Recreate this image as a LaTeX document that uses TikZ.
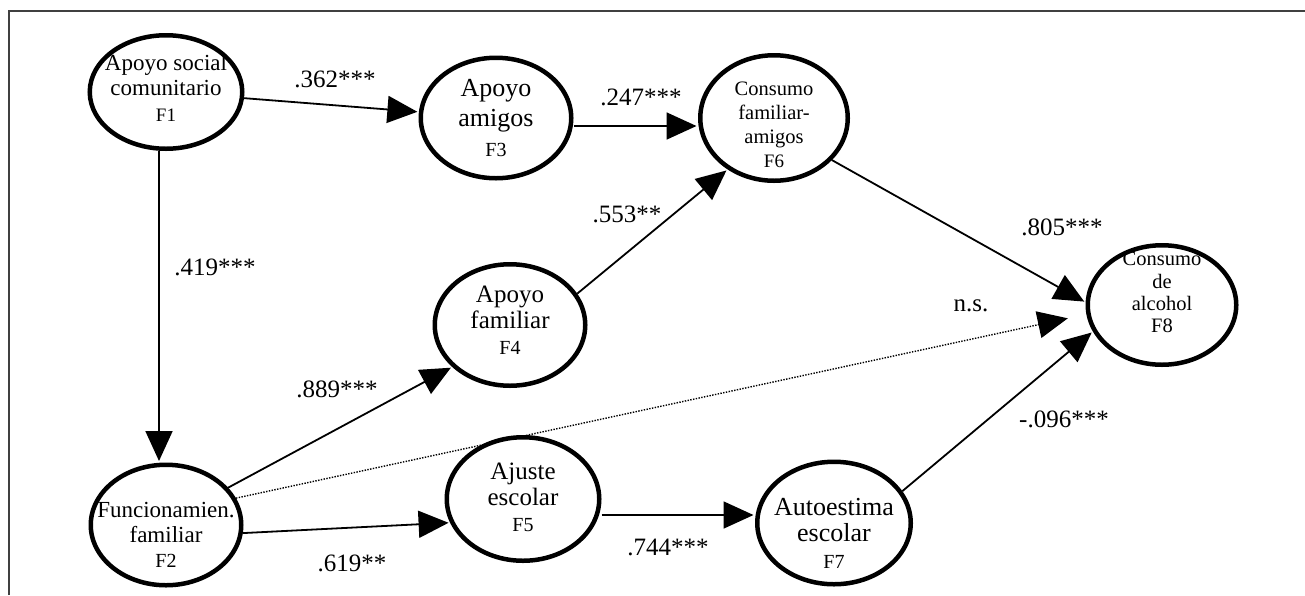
\documentclass[tikz,border=0pt]{standalone}
\usepackage{fontspec}
\setmainfont{Liberation Serif}
\usetikzlibrary{arrows.meta,shapes.geometric}
\begin{document}
\begin{tikzpicture}[x=1pt,y=-1pt,
  lv/.style={draw=black, line width=4.5pt, ellipse, inner sep=0pt, fill=white},
  nm/.style={align=center, inner sep=0pt},
  conn/.style={line width=1.8pt, -{Triangle[length=30pt,width=27pt]}, shorten >=1.5pt},
  dotline/.style={line width=1.4pt, dash pattern=on 1.4pt off 1.4pt, -{Triangle[length=30pt,width=27pt]}},
  coef/.style={font=\fontsize{25}{28}\selectfont, inner sep=0pt}]
\useasboundingbox (0,0) rectangle (1305,595);
\draw[line width=1.5pt, black!75] (9,595) -- (9,11) -- (1305,11);

% latent variables
\node[lv, minimum width=152.5pt, minimum height=113.5pt] (F1) at (166,92) {};
\node[lv, minimum width=150.5pt, minimum height=120.5pt] (F3) at (496,118) {};
\node[lv, minimum width=147.5pt, minimum height=125.5pt] (F6) at (774,118) {};
\node[lv, minimum width=150.5pt, minimum height=121.5pt] (F4) at (510,325) {};
\node[lv, minimum width=150.5pt, minimum height=120.5pt] (F2) at (166,525) {};
\node[lv, minimum width=152.5pt, minimum height=123.5pt] (F5) at (523,499) {};
\node[lv, minimum width=153.5pt, minimum height=122.5pt] (F7) at (834,523) {};
\node[lv, minimum width=148.5pt, minimum height=119.5pt] (F8) at (1162,305) {};

% texts
\node[nm, font=\fontsize{23}{25.5}\selectfont] (T1) at (166,88) {Apoyo social\\comunitario\\{\fontsize{19}{22}\selectfont F1}};
\node[nm, font=\fontsize{26}{30}\selectfont] (T3) at (496,118) {Apoyo\\amigos\\{\fontsize{20}{22}\selectfont F3}};
\node[nm, font=\fontsize{20.5}{24}\selectfont] (T6) at (774,125) {Consumo\\familiar-\\amigos\\{\fontsize{19}{22}\selectfont F6}};
\node[nm, font=\fontsize{25}{26}\selectfont] (T4) at (510,320) {Apoyo\\familiar\\{\fontsize{20}{22}\selectfont F4}};
\node[nm, font=\fontsize{23}{25}\selectfont] (T2) at (166,535) {Funcionamien.\\familiar\\{\fontsize{20}{22}\selectfont F2}};
\node[nm, font=\fontsize{25}{26}\selectfont] (T5) at (523,497.5) {Ajuste\\escolar\\{\fontsize{20}{22}\selectfont F5}};
\node[nm, font=\fontsize{26}{26.5}\selectfont] (T7) at (834,533) {Autoestima\\escolar\\{\fontsize{20}{22}\selectfont F7}};
\node[nm, font=\fontsize{20.5}{22.3}\selectfont] (T8) at (1162,292.5) {Consumo\\de\\alcohol\\{\fontsize{20.5}{22}\selectfont F8}};

% paths
\draw[conn] (F1) -- (F3);
\draw[conn] ([xshift=-7pt]F1.south) -- ([xshift=-7pt]F2.north);
\draw[conn] ([yshift=-8pt]F3.east) -- ([yshift=-8pt]F6.west);
\draw[conn] (F4.25) -- (F6.228);
\draw[conn] (F6.-36) -- (F8.178);
\draw[conn] (F2.31) -- (F4.216);
\draw[dotline, shorten >=19pt] (F2.21) -- (F8.187);
\draw[conn] (F2.-6) -- (F5.198);
\draw[conn] ([yshift=-16pt]F5.east) -- ([yshift=8pt]F7.west);
\draw[conn] (F7.25) -- (F8.201);

% coefficients
\node[coef] (c1) at (335,79) {.362***};
\node[coef] (c2) at (641,97) {.247***};
\node[coef] (c3) at (215,267) {.419***};
\node[coef] (c4) at (627,214) {.553**};
\node[coef] (c5) at (337,389) {.889***};
\node[coef] (c6) at (1062,227) {.805***};
\node[coef] (c7) at (971,306) {n.s.};
\node[coef] (c8) at (1064,419) {-.096***};
\node[coef] (c9) at (352,563) {.619**};
\node[coef] (c10) at (668,547) {.744***};
\end{tikzpicture}
\end{document}
